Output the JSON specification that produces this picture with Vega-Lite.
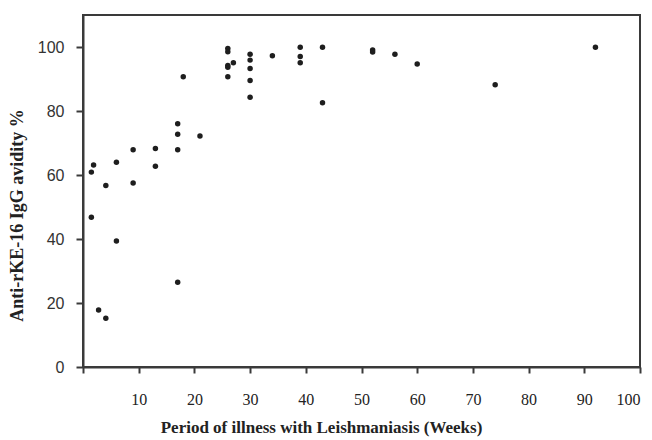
{
  "$schema": "https://vega.github.io/schema/vega-lite/v6.json",
  "width": 557,
  "height": 352,
  "autosize": {"type": "none"},
  "padding": {"left": 83, "top": 15, "right": 12, "bottom": 73},
  "background": "white",
  "config": {
    "view": {"stroke": "#3a3a3a", "strokeWidth": 2},
    "axis": {"grid": false, "domainColor": "#3a3a3a", "domainWidth": 2, "tickColor": "#3a3a3a", "tickWidth": 2}
  },
  "data": {
    "values": [
      {"weeks": 1.5, "avidity": 60.9},
      {"weeks": 1.9, "avidity": 63.1},
      {"weeks": 1.5, "avidity": 46.8},
      {"weeks": 2.8, "avidity": 17.8},
      {"weeks": 4.1, "avidity": 56.7},
      {"weeks": 4.1, "avidity": 15.2},
      {"weeks": 6, "avidity": 64.0},
      {"weeks": 6, "avidity": 39.4},
      {"weeks": 9, "avidity": 67.9},
      {"weeks": 9, "avidity": 57.5},
      {"weeks": 13, "avidity": 68.3},
      {"weeks": 13, "avidity": 62.7},
      {"weeks": 17, "avidity": 76.0},
      {"weeks": 17, "avidity": 72.7},
      {"weeks": 17, "avidity": 67.9},
      {"weeks": 17, "avidity": 26.5},
      {"weeks": 18, "avidity": 90.7},
      {"weeks": 21, "avidity": 72.2},
      {"weeks": 26, "avidity": 99.5},
      {"weeks": 26, "avidity": 98.5},
      {"weeks": 26, "avidity": 94.2},
      {"weeks": 26, "avidity": 93.7},
      {"weeks": 26, "avidity": 90.7},
      {"weeks": 27, "avidity": 95.1},
      {"weeks": 30, "avidity": 97.7},
      {"weeks": 30, "avidity": 95.9},
      {"weeks": 30, "avidity": 93.3},
      {"weeks": 30, "avidity": 89.5},
      {"weeks": 30, "avidity": 84.3},
      {"weeks": 34, "avidity": 97.3},
      {"weeks": 39, "avidity": 99.9},
      {"weeks": 39, "avidity": 97.0},
      {"weeks": 39, "avidity": 95.1},
      {"weeks": 43, "avidity": 99.9},
      {"weeks": 43, "avidity": 82.6},
      {"weeks": 52, "avidity": 99.1},
      {"weeks": 52, "avidity": 98.4},
      {"weeks": 56, "avidity": 97.7},
      {"weeks": 60, "avidity": 94.7},
      {"weeks": 74, "avidity": 88.2},
      {"weeks": 92, "avidity": 99.9}
    ]
  },
  "mark": {"type": "circle", "size": 30, "color": "#1e1e1e", "opacity": 1},
  "encoding": {
    "x": {
      "field": "weeks",
      "type": "quantitative",
      "scale": {"domain": [0, 100], "nice": false, "zero": true},
      "axis": {
        "title": "Period of illness with Leishmaniasis (Weeks)",
        "values": [0, 10, 20, 30, 40, 50, 60, 70, 80, 90, 100],
        "labelExpr": "datum.value == 0 ? '' : datum.label",
        "labelFont": "Liberation Serif",
        "labelFontSize": 16,
        "labelColor": "#222",
        "labelPadding": 18,
        "tickSize": 6,
        "titleFont": "Liberation Serif",
        "titleFontSize": 17,
        "titleFontWeight": "bold",
        "titleColor": "#222",
        "titleX": 238,
        "titleY": 60,
        "titleBaseline": "middle"
      }
    },
    "y": {
      "field": "avidity",
      "type": "quantitative",
      "scale": {"domain": [0, 110], "nice": false},
      "axis": {
        "title": "Anti-rKE-16 IgG avidity %",
        "values": [0, 20, 40, 60, 80, 100],
        "labelFont": "Liberation Sans",
        "labelFontSize": 16,
        "labelColor": "#333",
        "labelPadding": 12,
        "tickSize": 7,
        "titleFont": "Liberation Serif",
        "titleFontSize": 18,
        "titleFontWeight": "bold",
        "titleColor": "#222",
        "titleX": -66,
        "titleY": 200,
        "titleBaseline": "middle"
      }
    }
  }
}
